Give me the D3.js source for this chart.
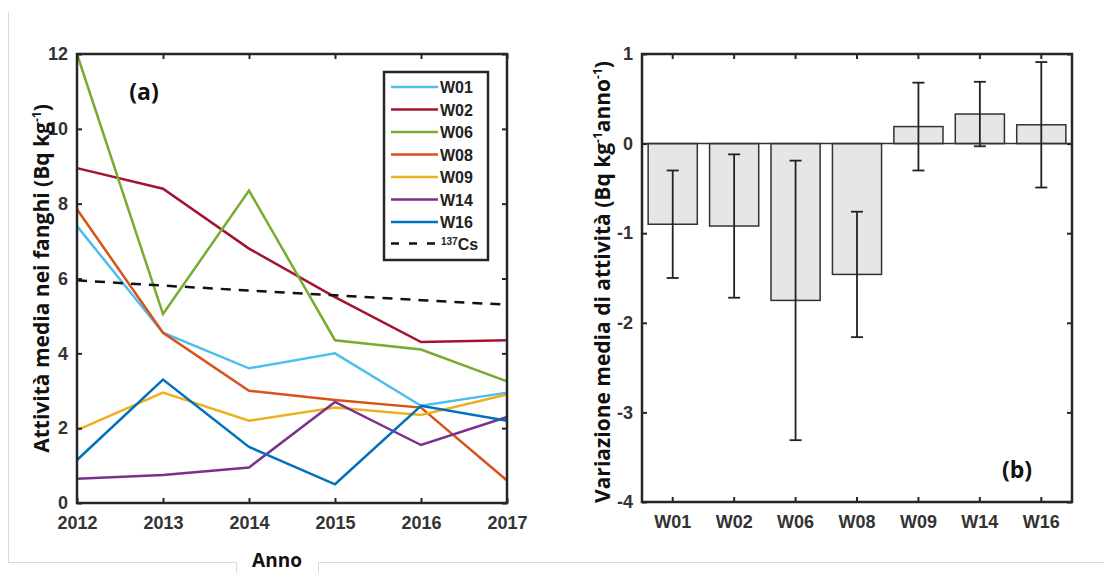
<!DOCTYPE html>
<html>
<head>
<meta charset="utf-8">
<script src="https://cdn.jsdelivr.net/npm/d3@7"></script>
<style>
  body { margin: 0; background: #fff; }
  svg { display: block; }
  .tick text { font-family: "Liberation Sans", Arial, sans-serif; font-weight: bold; font-size: 18px; fill: #333; }
  .title { font-family: "Open Sans", Lato, sans-serif; font-weight: bold; fill: #111; }
</style>
</head>
<body>
<svg id="chart" width="1104" height="573"></svg>
<script>
var years = [2012, 2013, 2014, 2015, 2016, 2017];
var stations = ["W01", "W02", "W06", "W08", "W09", "W14", "W16"];
var lineColors = ["#4DBEEE", "#A2142F", "#77AC30", "#D95319", "#EDB120", "#7E2F8E", "#0072BD"];

var w01 = [7.4, 4.55, 3.6, 4.0, 2.6, 2.95];
var w02 = [8.95, 8.4, 6.8, 5.5, 4.3, 4.35];
var w06 = [12.0, 5.05, 8.35, 4.35, 4.1, 3.25];
var w08 = [7.85, 4.55, 3.0, 2.75, 2.55, 0.6];
var w09 = [1.95, 2.95, 2.2, 2.55, 2.35, 2.9];
var w14 = [0.65, 0.75, 0.95, 2.7, 1.55, 2.3];
var w16 = [1.15, 3.3, 1.5, 0.5, 2.6, 2.2];
var cs137 = [5.95, 5.81, 5.68, 5.55, 5.42, 5.3];

var rateMean = [-0.9, -0.92, -1.75, -1.46, 0.19, 0.33, 0.21];
var rateErr = [0.6, 0.8, 1.56, 0.7, 0.49, 0.36, 0.7];

var svg = d3.select("#chart");

// outer frame
var frame = svg.append("g").attr("stroke", "#d9d9d9").attr("stroke-width", 1).attr("fill", "none");
frame.append("path").attr("d", "M8.5,12 V562.5 H236.5 V573");
frame.append("path").attr("d", "M318.5,573 V562.5 H1104");

// ---------- panel (a) ----------
var aLeft = 77, aRight = 507, aTop = 54, aBottom = 503;
var xA = d3.scalePoint().domain(years).range([aLeft, aRight]);
var yA = d3.scaleLinear().domain([0, 12]).range([aBottom, aTop]);

var series = [w01, w02, w06, w08, w09, w14, w16];
var line = d3.line().x(function(d, i) { return xA(years[i]); }).y(function(d) { return yA(d); });

var pa = svg.append("g");
pa.selectAll(".ser").data(series).enter().append("path")
  .attr("d", line)
  .attr("fill", "none")
  .attr("stroke", function(d, i) { return lineColors[i]; })
  .attr("stroke-width", 2.5);

pa.append("path").attr("d", line(cs137))
  .attr("fill", "none").attr("stroke", "#111").attr("stroke-width", 2.5)
  .attr("stroke-dasharray", "10,8");

function styleAxis(g, noLabels) {
  g.select(".domain").remove();
  g.selectAll(".tick line").attr("stroke", "#262626").attr("stroke-width", 2);
  if (noLabels) g.selectAll(".tick text").remove();
}
var plain = function(d) { return String(d); };

pa.append("g").attr("transform", "translate(" + aLeft + ",0)")
  .call(d3.axisLeft(yA).tickValues([0, 2, 4, 6, 8, 10, 12]).tickFormat(plain).tickSizeInner(-5).tickSizeOuter(0).tickPadding(9))
  .call(styleAxis);
pa.append("g").attr("transform", "translate(" + aRight + ",0)")
  .call(d3.axisRight(yA).tickValues([0, 2, 4, 6, 8, 10, 12]).tickSizeInner(-5).tickSizeOuter(0))
  .call(styleAxis, true);
pa.append("g").attr("transform", "translate(0," + aBottom + ")")
  .call(d3.axisBottom(xA).tickFormat(plain).tickSizeInner(-5).tickSizeOuter(0).tickPadding(13))
  .call(styleAxis);
pa.append("g").attr("transform", "translate(0," + aTop + ")")
  .call(d3.axisTop(xA).tickSizeInner(-5).tickSizeOuter(0))
  .call(styleAxis, true);

pa.append("rect").attr("x", aLeft).attr("y", aTop).attr("width", aRight - aLeft).attr("height", aBottom - aTop)
  .attr("fill", "none").attr("stroke", "#262626").attr("stroke-width", 2.5);

pa.append("text").attr("class", "title").attr("x", 144).attr("y", 100)
  .attr("text-anchor", "middle").attr("font-size", 23).text("(a)");

var ylabA = pa.append("text").attr("class", "title").attr("font-size", 21)
  .attr("text-anchor", "middle")
  .attr("transform", "translate(49," + ((aTop + aBottom) / 2) + ") rotate(-90)");
ylabA.append("tspan").text("Attività media nei fanghi (Bq kg");
ylabA.append("tspan").attr("font-size", 12).attr("dy", -8).text("-1");
ylabA.append("tspan").attr("dy", 8).text(")");

svg.append("text").attr("class", "title").attr("x", 277).attr("y", 567)
  .attr("text-anchor", "middle").attr("font-size", 19).text("Anno");

// legend
var lg = pa.append("g");
lg.append("rect").attr("x", 384).attr("y", 72).attr("width", 104).attr("height", 188)
  .attr("fill", "#fff").attr("stroke", "#262626").attr("stroke-width", 2.5);
var leg = lg.selectAll(".li").data(stations).enter().append("g")
  .attr("transform", function(d, i) { return "translate(391," + (87 + i * 22.5) + ")"; });
leg.append("line").attr("x1", 0).attr("x2", 47)
  .attr("stroke", function(d, i) { return lineColors[i]; }).attr("stroke-width", 2.5);
leg.append("text").attr("x", 49).attr("y", 6)
  .attr("font-family", "Liberation Sans, Arial, sans-serif").attr("font-weight", "bold")
  .attr("font-size", 16).attr("fill", "#222")
  .text(function(d) { return d; });
var csRow = lg.append("g").attr("transform", "translate(391," + (87 + 7 * 22.5 - 1) + ")");
csRow.append("line").attr("x1", 0).attr("x2", 47).attr("stroke", "#111").attr("stroke-width", 2.5)
  .attr("stroke-dasharray", "8,10");
var csText = csRow.append("text").attr("x", 50).attr("y", 6)
  .attr("font-family", "Liberation Sans, Arial, sans-serif").attr("font-weight", "bold")
  .attr("font-size", 16).attr("fill", "#222");
csText.append("tspan").attr("font-size", 10).attr("dy", -5).text("137");
csText.append("tspan").attr("dy", 5).text("Cs");

// ---------- panel (b) ----------
var bLeft = 642, bRight = 1072, bTop = 54, bBottom = 502;
var xB = d3.scaleBand().domain(stations).range([bLeft, bRight]).paddingInner(0.2).paddingOuter(0.1);
var yB = d3.scaleLinear().domain([-4, 1]).range([bBottom, bTop]);

var pb = svg.append("g");
pb.selectAll(".bar").data(rateMean).enter().append("rect")
  .attr("x", function(d, i) { return xB(stations[i]); })
  .attr("width", xB.bandwidth())
  .attr("y", function(d) { return yB(Math.max(0, d)); })
  .attr("height", function(d) { return Math.abs(yB(d) - yB(0)); })
  .attr("fill", "#e6e6e6").attr("stroke", "#333").attr("stroke-width", 1.5);

var eb = pb.selectAll(".err").data(rateMean).enter().append("g")
  .attr("transform", function(d, i) { return "translate(" + (xB(stations[i]) + xB.bandwidth() / 2) + ",0)"; })
  .attr("stroke", "#222").attr("stroke-width", 1.8);
eb.append("line").attr("y1", function(d, i) { return yB(d + rateErr[i]); })
  .attr("y2", function(d, i) { return yB(d - rateErr[i]); });
eb.append("line").attr("x1", -6).attr("x2", 6)
  .attr("y1", function(d, i) { return yB(d + rateErr[i]); })
  .attr("y2", function(d, i) { return yB(d + rateErr[i]); });
eb.append("line").attr("x1", -6).attr("x2", 6)
  .attr("y1", function(d, i) { return yB(d - rateErr[i]); })
  .attr("y2", function(d, i) { return yB(d - rateErr[i]); });

pb.append("line").attr("x1", bLeft).attr("x2", bRight).attr("y1", yB(0)).attr("y2", yB(0))
  .attr("stroke", "#333").attr("stroke-width", 1.5);

pb.append("g").attr("transform", "translate(" + bLeft + ",0)")
  .call(d3.axisLeft(yB).ticks(5).tickFormat(plain).tickSizeInner(-5).tickSizeOuter(0).tickPadding(9))
  .call(styleAxis);
pb.append("g").attr("transform", "translate(" + bRight + ",0)")
  .call(d3.axisRight(yB).ticks(5).tickSizeInner(-5).tickSizeOuter(0))
  .call(styleAxis, true);
pb.append("g").attr("transform", "translate(0," + bBottom + ")")
  .call(d3.axisBottom(xB).tickSizeInner(-5).tickSizeOuter(0).tickPadding(13))
  .call(styleAxis);
pb.append("g").attr("transform", "translate(0," + bTop + ")")
  .call(d3.axisTop(xB).tickSizeInner(-5).tickSizeOuter(0))
  .call(styleAxis, true);

pb.append("rect").attr("x", bLeft).attr("y", bTop).attr("width", bRight - bLeft).attr("height", bBottom - bTop)
  .attr("fill", "none").attr("stroke", "#262626").attr("stroke-width", 2.5);

pb.append("text").attr("class", "title").attr("x", 1017).attr("y", 478)
  .attr("text-anchor", "middle").attr("font-size", 23).text("(b)");

var ylabB = pb.append("text").attr("class", "title").attr("font-size", 21)
  .attr("text-anchor", "middle")
  .attr("transform", "translate(610," + ((bTop + bBottom) / 2 + 4) + ") rotate(-90)");
ylabB.append("tspan").text("Variazione media di attività (Bq kg");
ylabB.append("tspan").attr("font-size", 12).attr("dy", -8).text("-1");
ylabB.append("tspan").attr("dy", 8).text("anno");
ylabB.append("tspan").attr("font-size", 12).attr("dy", -8).text("-1");
ylabB.append("tspan").attr("dy", 8).text(")");
</script>
</body>
</html>
